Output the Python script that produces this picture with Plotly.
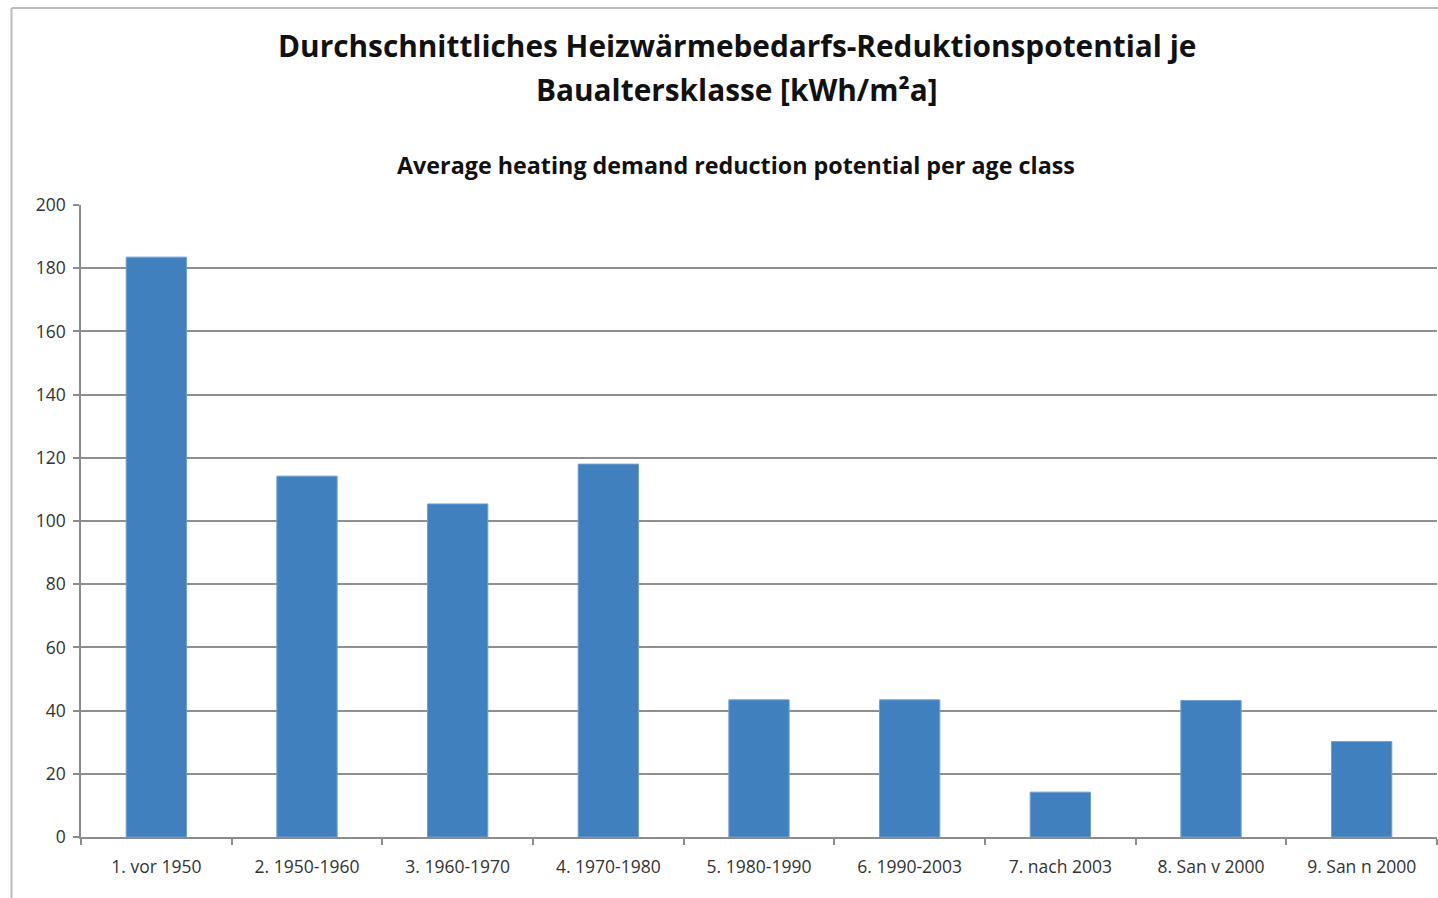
import plotly.graph_objects as go

categories = ["1. vor 1950", "2. 1950-1960", "3. 1960-1970", "4. 1970-1980",
              "5. 1980-1990", "6. 1990-2003", "7. nach 2003", "8. San v 2000",
              "9. San n 2000"]
values = [183.5, 114.2, 105.4, 118.0, 43.4, 43.4, 14.2, 43.2, 30.2]
y_ticks = [0, 20, 40, 60, 80, 100, 120, 140, 160, 180, 200]

title_line1 = "Durchschnittliches Heizwärmebedarfs-Reduktionspotential je"
title_line2 = "Baualtersklasse [kWh/m²a]"
subtitle = "Average heating demand reduction potential per age class"

W, H = 1438, 898
L, R, T, B = 81, 1, 205, 61

fig = go.Figure()
fig.add_trace(go.Bar(
    x=categories, y=values,
    marker=dict(color="#4080BF", line=dict(color="#6F9FD0", width=1)),
    width=0.4,
))

font_family = "'Open Sans', 'Noto Sans', sans-serif"

fig.update_layout(
    width=W, height=H,
    margin=dict(l=L, r=R, t=T, b=B, pad=0),
    paper_bgcolor="white", plot_bgcolor="white",
    showlegend=False,
    font=dict(family=font_family, color="#333333", size=15),
    xaxis=dict(
        type="category",
        showgrid=False,
        showline=True, linecolor="#8c8c8c", linewidth=1.5,
        ticks="outside", ticklen=6, tickcolor="#8c8c8c", tickwidth=1.5,
        tickson="boundaries",
        tickfont=dict(size=17.5, color="#333333"),
        ticklabelstandoff=13,
    ),
    yaxis=dict(
        range=[0, 200],
        tickvals=y_ticks,
        showgrid=True, gridcolor="#8f8f8f", gridwidth=1.5,
        showline=True, linecolor="#8c8c8c", linewidth=1.5,
        ticks="outside", ticklen=6, tickcolor="#8c8c8c", tickwidth=1.5,
        tickfont=dict(size=17.5, color="#333333"),
        zeroline=False,
        ticklabelstandoff=4,
    ),
)

ph = H - T - B
pw = W - L - R

def py(y_px):
    return (H - B - y_px) / ph

def px(x_px):
    return (x_px - L) / pw

for txt, yc in [(title_line1, 45), (title_line2, 90)]:
    fig.add_annotation(text="<b>" + txt + "</b>",
                       xref="paper", yref="paper", x=px(737), y=py(yc),
                       xanchor="center", yanchor="middle", showarrow=False,
                       font=dict(size=29.8, color="#111111", family=font_family))
fig.add_annotation(text="<b>" + subtitle + "</b>",
                   xref="paper", yref="paper", x=px(736), y=py(165),
                   xanchor="center", yanchor="middle", showarrow=False,
                   font=dict(size=23.3, color="#111111", family=font_family))

# outer chart frame (left and top edges)
fig.add_shape(type="line", xref="paper", yref="paper",
              x0=px(11.5), x1=px(11.5), y0=py(8), y1=py(898),
              line=dict(color="#b9bdb9", width=2))
fig.add_shape(type="line", xref="paper", yref="paper",
              x0=px(11.5), x1=px(1438), y0=py(8), y1=py(8),
              line=dict(color="#b9bdb9", width=2))

fig.write_html("out.html", config={"displayModeBar": False},
               post_script="document.body.style.margin='0px';")
